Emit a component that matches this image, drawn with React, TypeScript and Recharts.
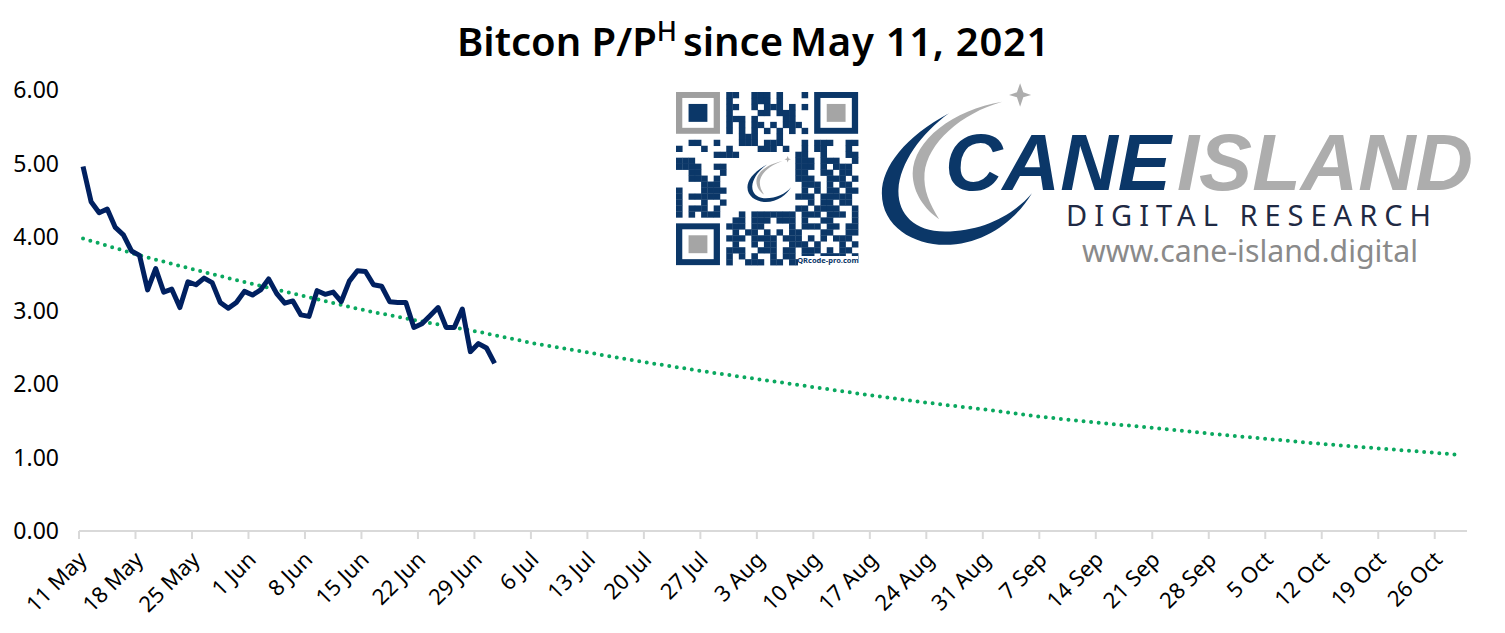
import React from 'react';
import { LineChart, Line, XAxis, YAxis } from 'recharts';

const tickLabels = [
  '11 May', '18 May', '25 May', '1 Jun', '8 Jun', '15 Jun', '22 Jun', '29 Jun', '6 Jul', '13 Jul', '20 Jul', '27 Jul',
  '3 Aug', '10 Aug', '17 Aug', '24 Aug', '31 Aug', '7 Sep', '14 Sep', '21 Sep', '28 Sep', '5 Oct', '12 Oct', '19 Oct', '26 Oct',
];
const yTicks = [0, 1, 2, 3, 4, 5, 6];

// daily values from 11 May
const pph = [
  4.96, 4.48, 4.33, 4.38, 4.13, 4.03, 3.81, 3.75, 3.28, 3.57, 3.25, 3.29, 3.04, 3.39, 3.35, 3.44, 3.38, 3.11,
  3.03, 3.11, 3.26, 3.21, 3.28, 3.43, 3.23, 3.1, 3.13, 2.94, 2.92, 3.27, 3.22, 3.25, 3.12, 3.4, 3.54, 3.53,
  3.35, 3.33, 3.12, 3.11, 3.11, 2.77, 2.82, 2.93, 3.04, 2.77, 2.77, 3.02, 2.44, 2.55, 2.49, 2.28,
];

const trendDays = [0, 7, 14, 21, 28, 35, 42, 49, 56, 63, 70, 77, 84, 91, 98, 105, 112, 119, 126, 133, 140, 147, 154, 161, 168, 170];
const trendValues = [3.98, 3.75, 3.55, 3.36, 3.18, 3.0, 2.85, 2.71, 2.55, 2.42, 2.29, 2.17, 2.06, 1.95, 1.84, 1.74, 1.65, 1.55, 1.47, 1.4, 1.32, 1.25, 1.18, 1.12, 1.06, 1.04];

const pphRows = pph.map((y, i) => ({ x: i + 0.5, y }));
const trendRows = trendDays.map((d, i) => ({ x: d + 0.5, y: trendValues[i] }));

const FONT = '"Noto Sans", "Open Sans", sans-serif';
const LOGO_BLUE = '#0b3768';
const LOGO_GREY = '#adadad';

// rough module pattern of the QR code, finders are drawn on top
const qrRows = [
  '........##..###.#...#.......',
  '........#...###.#...........',
  '........##..#.###.#.#.......',
  '........#....##.###.........',
  '........###.#....##.........',
  '........#.#.##.#.###........',
  '........#.#.#.#.#.#.#.......',
  '..........###...#...........',
  '..##..#...###.###...#.###..##',
  '#...#...#....###.#..#.##...#.',
  '......####.........##..#...##',
  '###................###.###..#',
  '####..##...........###.#.###.',
  '..##...#...........##..##.##.',
  '..###.#............###..###.#',
  '....###.............###.#.##.',
  '#...####............#.#.##.##',
  '#.#####............###.#####.',
  '#...#..#.............#.##.##.',
  '#.###.#............##.####..#',
  '#.#.###...#.#######.###.###.#',
  '.........##.###.###.#..##...#',
  '........###.##....#.###.##.##',
  '.........#.##.#.#.##...##..##',
  '........###.####.###.#.#.###.',
  '.........#..#.##..###.#...#.#',
  '........###..###.##.###.#.##.',
  '........#.#.#..#.##.##.####.#',
  '........#..###.##.###.##.###.',
];

const Crescents = () => (
  <>
    <path
      fill={LOGO_BLUE}
      d="M200 100 C90 170 30 260 30 340 C30 440 110 495 190 495 C290 495 370 420 410 340 C360 410 280 455 190 455 C110 455 70 400 72 330 C75 250 130 160 200 100 Z"
    />
    <path
      fill={LOGO_GREY}
      d="M335 65 C210 90 110 180 108 280 C108 340 140 390 175 418 C150 370 135 330 138 280 C145 190 230 100 335 65 Z"
    />
    <path fill={LOGO_GREY} d="M380 10 L388 37 L408 45 L388 52 L380 80 L372 52 L352 45 L372 37 Z" />
  </>
);

const QrCode = () => {
  const ox = 676;
  const oy = 92;
  const mx = 6.28;
  const my = 5.97;
  const finder = (cx: number, cy: number, ring: string, centre: string) => (
    <g key={`${cx}-${cy}`}>
      <rect x={ox + cx * mx} y={oy + cy * my} width={7 * mx} height={7 * my} fill={ring} />
      <rect x={ox + (cx + 1) * mx} y={oy + (cy + 1) * my} width={5 * mx} height={5 * my} fill="#fff" />
      <rect x={ox + (cx + 2) * mx} y={oy + (cy + 2) * my} width={3 * mx} height={3 * my} fill={centre} />
    </g>
  );
  return (
    <g>
      {qrRows.map((row, r) =>
        row.split('').map((c, k) =>
          c === '#' ? <rect key={`${r}-${k}`} x={ox + k * mx} y={oy + r * my} width={mx + 0.3} height={my + 0.3} fill={LOGO_BLUE} /> : null
        )
      )}
      {finder(0, 0, '#9f9f9f', LOGO_BLUE)}
      {finder(22, 0, LOGO_BLUE, '#a5a5a5')}
      {finder(0, 22, LOGO_BLUE, '#a5a5a5')}
      <g transform="translate(744,155) scale(0.115,0.095)">
        <Crescents />
      </g>
      <rect x={798} y={256} width={60} height={10} fill="#fff" />
      <text x={828} y={263} textAnchor="middle" fontFamily={FONT} fontSize={7.5} fontWeight={700} fill={LOGO_BLUE}>
        QRcode-pro.com
      </text>
    </g>
  );
};

const Logo = () => (
  <g>
    <g transform="translate(870,80) scale(0.395,0.333)">
      <Crescents />
    </g>
    <text x={945} y={190} fontFamily="Liberation Sans" fontWeight={700} fontStyle="italic" fontSize={80} fill={LOGO_BLUE} textLength={226} lengthAdjust="spacingAndGlyphs">
      CANE
    </text>
    <text x={1177} y={190} fontFamily="Liberation Sans" fontWeight={700} fontStyle="italic" fontSize={80} fill={LOGO_GREY} textLength={296} lengthAdjust="spacingAndGlyphs">
      ISLAND
    </text>
    <text x={1066} y={226} fontFamily={FONT} fontSize={29} fill="#1f2a44" textLength={365}>
      DIGITAL  RESEARCH
    </text>
    <text x={1082} y={262} fontFamily={FONT} fontSize={30} fill="#8a8a8a" textLength={336} lengthAdjust="spacingAndGlyphs">
      www.cane-island.digital
    </text>
  </g>
);

const DateTick = (props: any) => {
  const { x, y, payload } = props;
  return (
    <g transform={`translate(${x + 9},${y + 20})`}>
      <text transform="rotate(-45)" textAnchor="end" fontFamily={FONT} fontSize={22} fill="#000">
        {tickLabels[payload.value / 7]}
      </text>
    </g>
  );
};

export default function App() {
  return (
    <div style={{ position: 'absolute', left: 0, top: 0, width: 1505, height: 633, background: '#fff', overflow: 'hidden' }}>
      <LineChart width={1505} height={633} margin={{ top: 90, right: 38, bottom: 0, left: 0 }}>
        <XAxis
          dataKey="x"
          type="number"
          domain={[0, 172]}
          ticks={tickLabels.map((_, i) => i * 7)}
          interval={0}
          tick={<DateTick />}
          tickSize={8}
          height={102}
          axisLine={{ stroke: '#d9d9d9', strokeWidth: 2 }}
          tickLine={{ stroke: '#d9d9d9', strokeWidth: 2 }}
        />
        <YAxis
          type="number"
          domain={[0, 6]}
          ticks={yTicks}
          interval={0}
          width={79}
          axisLine={false}
          tickLine={false}
          tickSize={0}
          tickMargin={20}
          tickFormatter={(v: number) => v.toFixed(2)}
          tick={{ fontFamily: FONT, fontSize: 23, fill: '#000' }}
        />
        <Line data={trendRows} dataKey="y" stroke="#0aa85f" strokeWidth={4} strokeDasharray="0 7.6" strokeLinecap="round" dot={false} isAnimationActive={false} />
        <Line data={pphRows} dataKey="y" stroke="#002060" strokeWidth={5} strokeLinejoin="round" dot={false} isAnimationActive={false} />
      </LineChart>
      <svg width={1505} height={633} style={{ position: 'absolute', left: 0, top: 0, pointerEvents: 'none' }}>
        <text x={457} y={56} fontFamily={FONT} fontWeight={600} fontSize={40} fill="#000">
          Bitcon P/P<tspan dy={-15} fontSize={27} fontWeight={500}>H</tspan>
          <tspan dy={15} x={683}>since</tspan>
          <tspan x={790} letterSpacing={0.7}>May 11, 2021</tspan>
        </text>
        <QrCode />
        <Logo />
      </svg>
    </div>
  );
}
